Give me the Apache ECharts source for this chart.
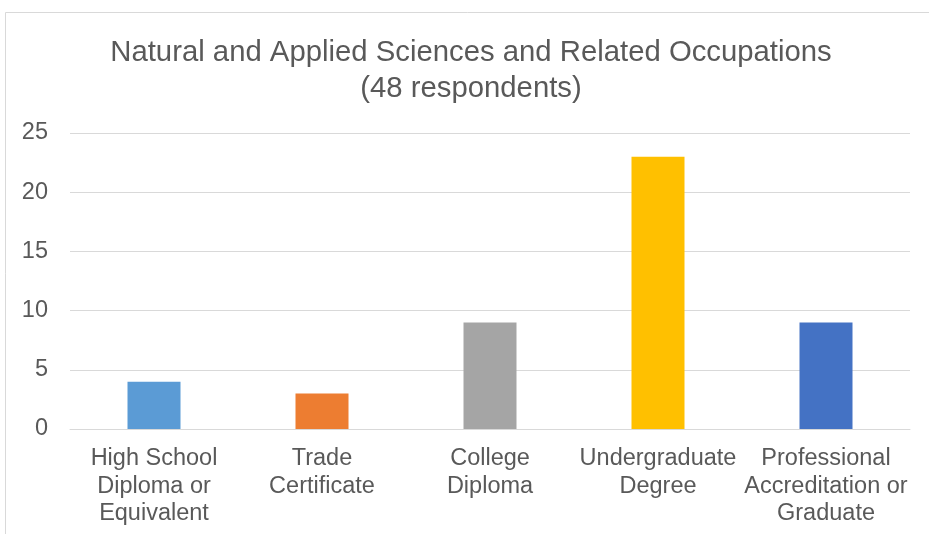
<!DOCTYPE html>
<html>
<head>
<meta charset="utf-8">
<script src="https://cdn.jsdelivr.net/npm/echarts@6/dist/echarts.min.js"></script>
<style>
html, body { margin: 0; padding: 0; background: #fff; }
#main { width: 929px; height: 534px; }
</style>
</head>
<body>
<div id="main"></div>
<script>
var categories = ['High School\nDiploma or\nEquivalent', 'Trade\nCertificate', 'College\nDiploma', 'Undergraduate\nDegree', 'Professional\nAccreditation or\nGraduate'];
var values = [4, 3, 9, 23, 9];
var barColors = ['#5B9BD5', '#ED7D31', '#A5A5A5', '#FFC000', '#4472C4'];
var yTicks = [0, 5, 10, 15, 20, 25];

var myChart = echarts.init(document.getElementById('main'));

var option = {
    backgroundColor: '#fff',
    animation: false,
    title: {
        text: 'Natural and Applied Sciences and Related Occupations\n(48 respondents)',
        left: 466,
        top: 30,
        textAlign: 'center',
        textStyle: {
            fontFamily: 'Liberation Sans',
            fontSize: 29.3,
            fontWeight: 'normal',
            color: '#595959',
            lineHeight: 36
        }
    },
    // chart frame (cropped at right and bottom)
    graphic: [{
        type: 'rect',
        shape: { x: 5.5, y: 12.5, width: 1000, height: 1000 },
        style: { fill: 'none', stroke: '#d9d9d9', lineWidth: 1 },
        silent: true
    }],
    grid: {
        left: 70,
        right: 19,
        top: 133,
        bottom: 105
    },
    xAxis: {
        type: 'category',
        data: categories,
        axisLine: { lineStyle: { color: '#d9d9d9', width: 1 } },
        axisTick: { show: false },
        axisLabel: {
            interval: 0,
            margin: 16,
            fontFamily: 'Liberation Sans',
            fontSize: 23.5,
            lineHeight: 27.5,
            color: '#595959'
        }
    },
    yAxis: {
        type: 'value',
        min: yTicks[0],
        max: yTicks[yTicks.length - 1],
        interval: 5,
        axisLine: { show: false },
        axisTick: { show: false },
        splitLine: { lineStyle: { color: '#d9d9d9', width: 1 } },
        axisLabel: {
            margin: 22,
            fontFamily: 'Liberation Sans',
            fontSize: 23.5,
            color: '#595959'
        }
    },
    series: [{
        type: 'bar',
        barWidth: 53,
        data: values.map(function (v, i) {
            return { value: v, itemStyle: { color: barColors[i] } };
        })
    }]
};

myChart.setOption(option);
</script>
</body>
</html>
